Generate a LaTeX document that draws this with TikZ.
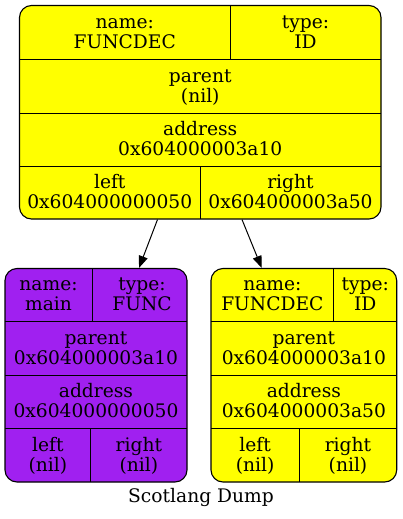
\documentclass[tikz,border=0pt]{standalone}
\usepackage{fontspec}
\setmainfont{DejaVu Serif}
\usetikzlibrary{arrows.meta,calc}
\definecolor{gvpurple}{RGB}{160,32,240}
\definecolor{gvyellow}{RGB}{255,255,0}
\newcommand{\stl}{\rule[-4.2pt]{0pt}{20pt}}
\tikzset{
  record/.style={draw=black, line width=1.1pt, rounded corners=12pt, inner sep=0pt},
  divider/.style={draw=black, line width=1pt},
  celltext/.style={align=center, inner sep=0pt, font=\fontsize{18.67}{20}\selectfont},
  link/.style={draw=black, line width=1pt, -{Triangle[length=12pt,width=9pt]}},
  caption/.style={inner sep=0pt, anchor=base, font=\fontsize{18.67}{20}\selectfont}
}
\begin{document}
\begin{tikzpicture}[x=1pt,y=-1pt]
\useasboundingbox (0,0) rectangle (402,519);
% top record
\node[record, fill=gvyellow, minimum width=361.5pt, minimum height=213.5pt] (top) at (200.25,112.25) {};
\draw[divider] (19.5,59.5) -- (381,59.5);
\draw[divider] (19.5,113) -- (381,113);
\draw[divider] (19.5,166) -- (381,166);
\draw[divider] (230,5.5) -- (230,59.5);
\draw[divider] (200,166) -- (200,219);
\node[celltext] (tname) at (124.75,32.5) {\stl name:\\\stl FUNCDEC};
\node[celltext] (ttype) at (305.5,32.5) {\stl type:\\\stl ID};
\node[celltext] (tparent) at (200.25,86.25) {\stl parent\\\stl (nil)};
\node[celltext] (taddr) at (200.25,139.5) {\stl address\\\stl 0x604000003a10};
\node[celltext] (tleft) at (109.75,192.5) {\stl left\\\stl 0x604000000050};
\node[celltext] (tright) at (290.5,192.5) {\stl right\\\stl 0x604000003a50};
% left record
\node[record, fill=gvpurple, minimum width=182pt, minimum height=213.5pt] (L) at (96,375.25) {};
\draw[divider] (5,321.7) -- (187,321.7);
\draw[divider] (5,375.3) -- (187,375.3);
\draw[divider] (5,428.7) -- (187,428.7);
\draw[divider] (92,268.5) -- (92,321.7);
\draw[divider] (90.7,428.7) -- (90.7,482);
\node[celltext] (lname) at (48.5,295.1) {\stl name:\\\stl main};
\node[celltext] (ltype) at (142,295.1) {\stl type:\\\stl FUNC};
\node[celltext] (lparent) at (96,348.5) {\stl parent\\\stl 0x604000003a10};
\node[celltext] (laddr) at (96,402) {\stl address\\\stl 0x604000000050};
\node[celltext] (lleft) at (47.85,455.35) {\stl left\\\stl (nil)};
\node[celltext] (lright) at (138.85,455.35) {\stl right\\\stl (nil)};
% right record
\node[record, fill=gvyellow, minimum width=185.7pt, minimum height=213.5pt] (R) at (303.85,375.25) {};
\draw[divider] (211,321.7) -- (396.7,321.7);
\draw[divider] (211,375.3) -- (396.7,375.3);
\draw[divider] (211,428.7) -- (396.7,428.7);
\draw[divider] (333.7,268.5) -- (333.7,321.7);
\draw[divider] (299.3,428.7) -- (299.3,482);
\node[celltext] (rname) at (272.35,295.1) {\stl name:\\\stl FUNCDEC};
\node[celltext] (rtype) at (365.2,295.1) {\stl type:\\\stl ID};
\node[celltext] (rparent) at (303.85,348.5) {\stl parent\\\stl 0x604000003a10};
\node[celltext] (raddr) at (303.85,402) {\stl address\\\stl 0x604000003a50};
\node[celltext] (rleft) at (255.15,455.35) {\stl left\\\stl (nil)};
\node[celltext] (rright) at (348,455.35) {\stl right\\\stl (nil)};
% connectors
\draw[link] ($(top.south)+(-42.75,0)$) -- ($(L.north)+(43,0)$);
\draw[link] ($(top.south)+(41.75,0)$) -- ($(R.north)+(-42.15,0)$);
% caption
\node[caption] (cap) at (201,502.7) {Scotlang Dump};
\end{tikzpicture}
\end{document}
